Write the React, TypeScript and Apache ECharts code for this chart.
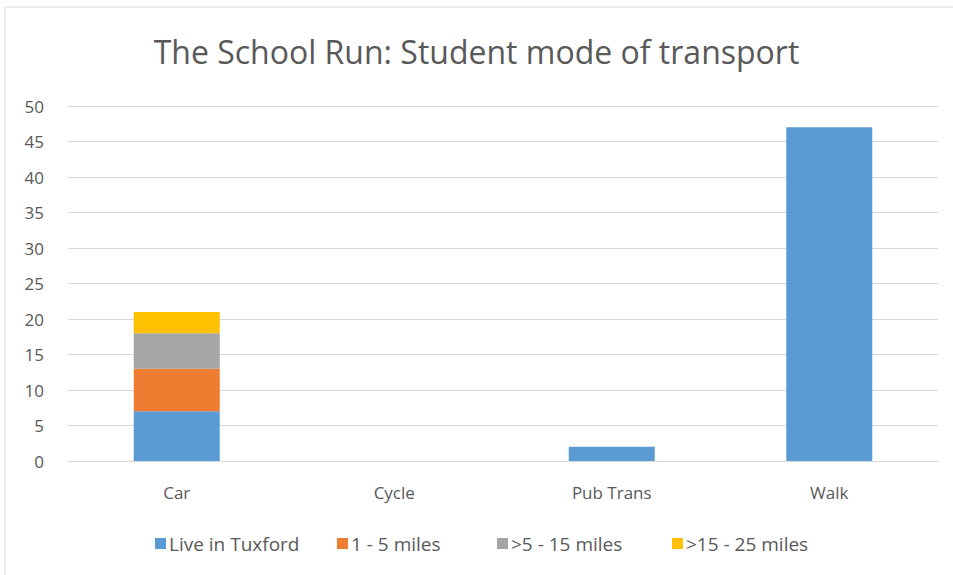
import React, { useEffect, useRef } from "react";
import * as echarts from "echarts";

const categories = ["Car", "Cycle", "Pub Trans", "Walk"];
const liveInTuxford = [7, 0, 2, 47];
const miles1to5 = [6, 0, 0, 0];
const miles5to15 = [5, 0, 0, 0];
const miles15to25 = [3, 0, 0, 0];
const seriesNames = ["Live in Tuxford", "1 - 5 miles", ">5 - 15 miles", ">15 - 25 miles"];
const colors = ["#5B9BD5", "#ED7D31", "#A5A5A5", "#FFC000"];
const legendLefts = [155, 337, 497, 672];

const FONT = "'Open Sans', 'Noto Sans', sans-serif";

export default function App() {
  const ref = useRef<HTMLDivElement>(null);
  useEffect(() => {
    if (!ref.current) return;
    const chart = echarts.init(ref.current, null, { renderer: "svg" });
    const data = [liveInTuxford, miles1to5, miles5to15, miles15to25];
    chart.setOption({
      animation: false,
      backgroundColor: "#ffffff",
      color: colors,
      title: {
        text: "The School Run: Student mode of transport",
        left: "center",
        top: 30,
        textStyle: { fontFamily: FONT, fontSize: 32, fontWeight: "normal", color: "#595959" },
      },
      legend: seriesNames.map((name, i) => ({
        top: 534,
        left: legendLefts[i],
        padding: 0,
        itemWidth: 11,
        itemHeight: 11,
        itemGap: 0,
        icon: "rect",
        textStyle: { fontFamily: FONT, fontSize: 19, color: "#595959", padding: [0, 0, 0, -2] },
        data: [name],
      })),
      grid: { left: 68, right: 15, top: 106, bottom: 114, containLabel: false },
      xAxis: {
        type: "category",
        data: categories,
        axisLine: { lineStyle: { color: "#d9d9d9" } },
        axisTick: { show: false },
        axisLabel: { fontFamily: FONT, fontSize: 17, color: "#595959", margin: 23 },
      },
      yAxis: {
        type: "value",
        min: 0,
        max: 50,
        interval: 5,
        axisLine: { show: false },
        axisTick: { show: false },
        splitLine: { lineStyle: { color: "#d9d9d9" } },
        axisLabel: { fontFamily: FONT, fontSize: 17, color: "#595959", margin: 24 },
      },
      graphic: [
        { type: "line", shape: { x1: 5, y1: 7, x2: 953, y2: 7 }, style: { stroke: "#d9d9d9", lineWidth: 1 } },
        { type: "line", shape: { x1: 5, y1: 7, x2: 5, y2: 575 }, style: { stroke: "#d9d9d9", lineWidth: 1 } },
      ],
      series: seriesNames.map((name, i) => ({
        name,
        type: "bar",
        stack: "total",
        barWidth: 86,
        data: data[i],
        itemStyle: { color: colors[i] },
      })),
    });
    return () => chart.dispose();
  }, []);
  return (
    <div
      ref={ref}
      style={{ position: "fixed", left: 0, top: 0, width: 953, height: 575 }}
    />
  );
}
